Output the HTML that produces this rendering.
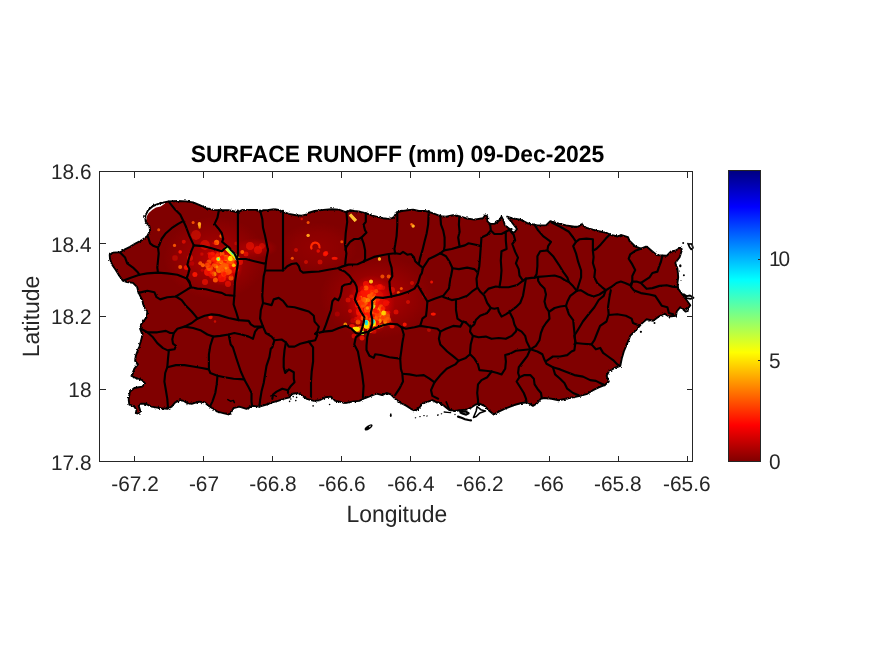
<!DOCTYPE html>
<html><head><meta charset="utf-8"><title>SURFACE RUNOFF (mm) 09-Dec-2025</title>
<style>html,body{margin:0;padding:0;background:#fff;}body{width:875px;height:656px;position:relative;overflow:hidden;font-family:"Liberation Sans",Arial,sans-serif;}</style>
</head><body>
<svg width="875" height="656" viewBox="0 0 875 656" style="position:absolute;left:0;top:0">
<defs>
<linearGradient id="jet" x1="0" y1="1" x2="0" y2="0">
<stop offset="0" stop-color="#800000"/><stop offset="0.125" stop-color="#ff0000"/><stop offset="0.375" stop-color="#ffff00"/><stop offset="0.625" stop-color="#00ffff"/><stop offset="0.875" stop-color="#0000ff"/><stop offset="1" stop-color="#000080"/>
</linearGradient>
<clipPath id="land"><polygon points="110,259 109.7,254.7 112.9,252.6 120,252.3 124.4,249.7 130,246.9 135.8,243.3 141.5,240.4 147.3,236.1 150.1,230.4 149.4,226.1 145.8,221.8 145.1,216.1 148,210.3 153,206 160.2,203.2 168.8,201.4 177.4,201 186,201.4 193.1,202.4 200.3,205.3 206,208.2 213.2,209.9 218.9,210.3 228.6,210.3 237.9,212.3 241.5,210.3 248.7,209.9 255.8,209.9 260.1,211.8 263,210.3 268.7,209.9 274.4,209.3 278.7,209.9 283,211.8 288.8,213.9 295.9,215.3 301.7,215.6 306,214.6 307.4,213.2 314.6,211 323.2,209.9 331.7,209.3 338.9,209.6 346.4,212.3 350,210.3 354.3,211 360.1,211.8 365.8,213.2 371.5,215.3 377.2,216.8 383,218.2 388.7,218.9 393.7,217.5 396.6,212.5 401.6,211 407.3,210.3 413.1,209.6 418.8,211 424.5,211 428.8,211.8 434.6,213.9 440.3,216.1 446,216.8 453.2,215.3 458.9,216.1 465.7,218.2 474.3,219.6 482.9,218.2 485.1,215.3 487.2,216.1 487.2,221.1 490.1,223.9 494.4,223.9 498.7,221.1 501.5,216.8 503.2,220 505,225.5 509,228.5 512.8,232.6 514.8,232 517,229 512,222.5 507.2,216.6 511.6,218.2 520.2,219.6 527.3,223.2 537.4,225.4 546,225.4 550.3,221.1 557.4,223.2 566,225.4 574.6,226.8 578.5,226.6 581.5,224.3 586.5,227.9 596.5,230.7 606.5,232.9 610.8,235 618,236.5 620.8,235 628,237.2 629.4,240.8 635.2,246.5 640.9,248.7 646.6,246.5 652.4,251.5 656.7,255.1 666.7,255.8 671,251.5 675.3,250.8 681,247.2 681.7,250.8 679.6,257.2 675.3,263 677.4,268.7 678.2,277.3 677.4,283 678.2,288.8 682.4,294.5 686.7,300.2 690.3,305.2 688.2,308.1 684.6,310 680.3,307.2 676.7,311.5 676,315.8 668.9,316.5 664.6,313.6 658.8,316.5 653.1,320.8 646.6,319.3 641.6,323.6 637.3,328.7 633,333 630.3,335.7 627.4,342.9 623.8,351.5 621.7,358.7 620.3,365.8 614.5,368 608.8,371.5 606.6,375.8 608.8,381.6 604.5,385.2 598.8,387.3 593,390.2 587.3,393.8 580.1,395.9 573,397.3 565.8,398.8 558.7,400.2 551.5,398.8 544.3,398 540.7,398.8 537.2,403.1 532.9,405.9 527.4,402.3 521.7,403 515.9,404.5 510.2,406.6 504.5,408.8 498.7,411.6 493.7,414.5 488.7,410.2 484.4,405.9 480.1,403.8 475.8,404.5 471.5,407.3 467.2,409.5 460.1,410.2 454.3,411 448.6,409.5 444.3,406 440,403 436.7,402.3 432.4,400.2 428.1,401.6 423.1,403 419.5,407.3 415.2,410.9 410.9,408.8 406.6,405.9 400.9,403 395.1,398.7 390.8,394.4 386.5,393 382.2,395.2 376.5,393.7 370.8,395.9 365.1,398 359.3,400.9 352.2,401.6 345.3,403.1 339.6,401.6 335.3,400.9 331,396.6 325.3,397.3 319.6,400.2 313.8,400.9 306.7,398.8 302.4,395.9 298.1,393 292.3,393.7 289.5,397.3 283.7,398.8 278,400.9 272.3,402.3 266.5,404.5 259.4,406.6 252.2,405.9 246.5,408.8 239.3,406.6 233.6,408.1 231.4,411.7 229.3,414.5 223.2,413.1 217.4,411.7 212.4,408.1 208.9,405.9 204.6,402.3 198.8,401.6 191.7,403.8 187.4,403.1 183.8,400.9 180.2,400.2 175.2,402.3 171.6,406.6 167.3,408.8 160.1,408.1 151.5,406.6 145.8,403.8 140.8,403.8 138.7,405.9 140.1,410.2 139.4,413.8 135.8,413.1 136.5,410.2 134.4,406.6 129.3,404.5 128.6,398.8 130.1,391.6 134.4,388 142.2,386.6 145.1,383.7 142.2,380.1 135.8,378 131.5,375.8 134.4,368.7 137.9,364.4 135.1,360.8 135.8,355.8 138.7,348 140.8,341.5 142.5,335 140.1,328.7 141.5,323.7 146.6,317.3 147.3,311.5 143.7,306.5 142.3,300.1 138.7,292.9 137.2,287.2 133,282.9 127,282 122.9,280.7 119.3,275.7 115.8,270 112.2,264.8"/></clipPath>
<radialGradient id="gRed"><stop offset="0" stop-color="#f00000" stop-opacity=".5"/><stop offset=".5" stop-color="#e00000" stop-opacity=".26"/><stop offset="1" stop-color="#d00000" stop-opacity="0"/></radialGradient>
<radialGradient id="gRed2"><stop offset="0" stop-color="#e00000" stop-opacity=".22"/><stop offset=".6" stop-color="#d80000" stop-opacity=".13"/><stop offset="1" stop-color="#d00000" stop-opacity="0"/></radialGradient>
<radialGradient id="gRed3"><stop offset="0" stop-color="#ff2000" stop-opacity=".85"/><stop offset=".55" stop-color="#ff1000" stop-opacity=".55"/><stop offset="1" stop-color="#f00000" stop-opacity="0"/></radialGradient>
<filter id="rough" x="-2%" y="-2%" width="104%" height="104%"><feTurbulence type="fractalNoise" baseFrequency="0.25" numOctaves="2" seed="3" result="n"/><feDisplacementMap in="SourceGraphic" in2="n" scale="1.6" xChannelSelector="R" yChannelSelector="G"/></filter>
<filter id="rough2" x="-2%" y="-2%" width="104%" height="104%"><feTurbulence type="fractalNoise" baseFrequency="0.45" numOctaves="2" seed="7" result="n"/><feDisplacementMap in="SourceGraphic" in2="n" scale="2.6" xChannelSelector="R" yChannelSelector="G"/></filter>
<filter id="blur2" x="-50%" y="-50%" width="200%" height="200%"><feGaussianBlur stdDeviation="0.45"/></filter>
<filter id="blur1" x="-50%" y="-50%" width="200%" height="200%"><feGaussianBlur stdDeviation="0.7"/></filter>
</defs>
<rect x="0" y="0" width="875" height="656" fill="#fff"/>
<polygon points="110,259 109.7,254.7 112.9,252.6 120,252.3 124.4,249.7 130,246.9 135.8,243.3 141.5,240.4 147.3,236.1 150.1,230.4 149.4,226.1 145.8,221.8 145.1,216.1 148,210.3 153,206 160.2,203.2 168.8,201.4 177.4,201 186,201.4 193.1,202.4 200.3,205.3 206,208.2 213.2,209.9 218.9,210.3 228.6,210.3 237.9,212.3 241.5,210.3 248.7,209.9 255.8,209.9 260.1,211.8 263,210.3 268.7,209.9 274.4,209.3 278.7,209.9 283,211.8 288.8,213.9 295.9,215.3 301.7,215.6 306,214.6 307.4,213.2 314.6,211 323.2,209.9 331.7,209.3 338.9,209.6 346.4,212.3 350,210.3 354.3,211 360.1,211.8 365.8,213.2 371.5,215.3 377.2,216.8 383,218.2 388.7,218.9 393.7,217.5 396.6,212.5 401.6,211 407.3,210.3 413.1,209.6 418.8,211 424.5,211 428.8,211.8 434.6,213.9 440.3,216.1 446,216.8 453.2,215.3 458.9,216.1 465.7,218.2 474.3,219.6 482.9,218.2 485.1,215.3 487.2,216.1 487.2,221.1 490.1,223.9 494.4,223.9 498.7,221.1 501.5,216.8 503.2,220 505,225.5 509,228.5 512.8,232.6 514.8,232 517,229 512,222.5 507.2,216.6 511.6,218.2 520.2,219.6 527.3,223.2 537.4,225.4 546,225.4 550.3,221.1 557.4,223.2 566,225.4 574.6,226.8 578.5,226.6 581.5,224.3 586.5,227.9 596.5,230.7 606.5,232.9 610.8,235 618,236.5 620.8,235 628,237.2 629.4,240.8 635.2,246.5 640.9,248.7 646.6,246.5 652.4,251.5 656.7,255.1 666.7,255.8 671,251.5 675.3,250.8 681,247.2 681.7,250.8 679.6,257.2 675.3,263 677.4,268.7 678.2,277.3 677.4,283 678.2,288.8 682.4,294.5 686.7,300.2 690.3,305.2 688.2,308.1 684.6,310 680.3,307.2 676.7,311.5 676,315.8 668.9,316.5 664.6,313.6 658.8,316.5 653.1,320.8 646.6,319.3 641.6,323.6 637.3,328.7 633,333 630.3,335.7 627.4,342.9 623.8,351.5 621.7,358.7 620.3,365.8 614.5,368 608.8,371.5 606.6,375.8 608.8,381.6 604.5,385.2 598.8,387.3 593,390.2 587.3,393.8 580.1,395.9 573,397.3 565.8,398.8 558.7,400.2 551.5,398.8 544.3,398 540.7,398.8 537.2,403.1 532.9,405.9 527.4,402.3 521.7,403 515.9,404.5 510.2,406.6 504.5,408.8 498.7,411.6 493.7,414.5 488.7,410.2 484.4,405.9 480.1,403.8 475.8,404.5 471.5,407.3 467.2,409.5 460.1,410.2 454.3,411 448.6,409.5 444.3,406 440,403 436.7,402.3 432.4,400.2 428.1,401.6 423.1,403 419.5,407.3 415.2,410.9 410.9,408.8 406.6,405.9 400.9,403 395.1,398.7 390.8,394.4 386.5,393 382.2,395.2 376.5,393.7 370.8,395.9 365.1,398 359.3,400.9 352.2,401.6 345.3,403.1 339.6,401.6 335.3,400.9 331,396.6 325.3,397.3 319.6,400.2 313.8,400.9 306.7,398.8 302.4,395.9 298.1,393 292.3,393.7 289.5,397.3 283.7,398.8 278,400.9 272.3,402.3 266.5,404.5 259.4,406.6 252.2,405.9 246.5,408.8 239.3,406.6 233.6,408.1 231.4,411.7 229.3,414.5 223.2,413.1 217.4,411.7 212.4,408.1 208.9,405.9 204.6,402.3 198.8,401.6 191.7,403.8 187.4,403.1 183.8,400.9 180.2,400.2 175.2,402.3 171.6,406.6 167.3,408.8 160.1,408.1 151.5,406.6 145.8,403.8 140.8,403.8 138.7,405.9 140.1,410.2 139.4,413.8 135.8,413.1 136.5,410.2 134.4,406.6 129.3,404.5 128.6,398.8 130.1,391.6 134.4,388 142.2,386.6 145.1,383.7 142.2,380.1 135.8,378 131.5,375.8 134.4,368.7 137.9,364.4 135.1,360.8 135.8,355.8 138.7,348 140.8,341.5 142.5,335 140.1,328.7 141.5,323.7 146.6,317.3 147.3,311.5 143.7,306.5 142.3,300.1 138.7,292.9 137.2,287.2 133,282.9 127,282 122.9,280.7 119.3,275.7 115.8,270 112.2,264.8" fill="#800000"/>
<g clip-path="url(#land)" filter="url(#blur1)">
<ellipse cx="215" cy="258" rx="52" ry="42" fill="url(#gRed)"/>
<ellipse cx="377" cy="297" rx="58" ry="42" fill="url(#gRed)"/>
<ellipse cx="318" cy="248" rx="40" ry="26" fill="url(#gRed2)"/>
<ellipse cx="256" cy="248" rx="22" ry="10" fill="url(#gRed)"/>
<ellipse cx="224" cy="266" rx="19" ry="20" fill="url(#gRed3)"/>
<ellipse cx="226" cy="262" rx="10" ry="11" fill="url(#gRed3)"/>
<ellipse cx="371" cy="305" rx="24" ry="30" fill="url(#gRed3)"/>
<ellipse cx="372" cy="308" rx="13" ry="20" fill="url(#gRed3)"/>
<ellipse cx="224.6" cy="268.7" rx="5" ry="5" fill="#ff5a00" fill-opacity="0.9"/>
<ellipse cx="218" cy="262" rx="4" ry="4" fill="#ff1500" fill-opacity="0.9"/>
<ellipse cx="230" cy="263" rx="3.5" ry="3.5" fill="#ff5a00" fill-opacity="0.9"/>
<ellipse cx="233.7" cy="265.3" rx="2" ry="2" fill="#ff9800" fill-opacity="1"/>
<ellipse cx="230.3" cy="258.4" rx="2.6" ry="2.6" fill="#ffe600" fill-opacity="1"/>
<ellipse cx="208" cy="272" rx="4" ry="4" fill="#ff1500" fill-opacity="0.8"/>
<ellipse cx="222" cy="278" rx="4" ry="4" fill="#ff1500" fill-opacity="0.8"/>
<ellipse cx="212" cy="256" rx="4" ry="4" fill="#ff1500" fill-opacity="0.7"/>
<ellipse cx="205" cy="245" rx="5" ry="5" fill="#ff1500" fill-opacity="0.45"/>
<ellipse cx="196" cy="235" rx="5" ry="5" fill="#ff1500" fill-opacity="0.4"/>
<ellipse cx="199.4" cy="224.1" rx="1.8" ry="1.8" fill="#ff9800" fill-opacity="1"/>
<ellipse cx="193.1" cy="222.4" rx="1.5" ry="1.5" fill="#ff5a00" fill-opacity="0.9"/>
<ellipse cx="216.6" cy="242.4" rx="2.6" ry="2.6" fill="#ff5a00" fill-opacity="1"/>
<ellipse cx="221.1" cy="236.1" rx="1.8" ry="1.8" fill="#ff5a00" fill-opacity="0.9"/>
<ellipse cx="242.3" cy="252.1" rx="2" ry="2" fill="#ff5a00" fill-opacity="1"/>
<ellipse cx="202.9" cy="265.3" rx="2" ry="2" fill="#ff5a00" fill-opacity="1"/>
<ellipse cx="194.9" cy="274.4" rx="2.5" ry="2.5" fill="#ff1500" fill-opacity="0.9"/>
<ellipse cx="215.4" cy="280.1" rx="2.5" ry="2.5" fill="#ff5a00" fill-opacity="0.9"/>
<ellipse cx="186.3" cy="267.6" rx="2.5" ry="2.5" fill="#ff1500" fill-opacity="0.8"/>
<ellipse cx="158.7" cy="229.7" rx="1.5" ry="1.5" fill="#ff5a00" fill-opacity="0.8"/>
<ellipse cx="174.5" cy="245.4" rx="1.6" ry="1.6" fill="#ff5a00" fill-opacity="0.9"/>
<ellipse cx="180.2" cy="251.9" rx="1.8" ry="1.8" fill="#ff1500" fill-opacity="0.9"/>
<ellipse cx="183.8" cy="241.8" rx="2" ry="2" fill="#ff1500" fill-opacity="0.6"/>
<ellipse cx="180.2" cy="266.9" rx="2" ry="2" fill="#ff5a00" fill-opacity="0.9"/>
<ellipse cx="200.3" cy="263.3" rx="2" ry="2" fill="#ff5a00" fill-opacity="0.9"/>
<ellipse cx="210" cy="268" rx="3" ry="3" fill="#ff5a00" fill-opacity="0.8"/>
<ellipse cx="226" cy="258" rx="3" ry="3" fill="#ff9800" fill-opacity="0.9"/>
<ellipse cx="222" cy="254" rx="2.5" ry="2.5" fill="#ff5a00" fill-opacity="0.9"/>
<ellipse cx="228" cy="272" rx="3" ry="3" fill="#ff5a00" fill-opacity="0.8"/>
<ellipse cx="219" cy="270" rx="3" ry="3" fill="#ff9800" fill-opacity="0.7"/>
<ellipse cx="236" cy="270" rx="2.5" ry="2.5" fill="#ff1500" fill-opacity="0.8"/>
<ellipse cx="240" cy="262" rx="3" ry="3" fill="#ff1500" fill-opacity="0.6"/>
<ellipse cx="228" cy="284" rx="3" ry="3" fill="#ff1500" fill-opacity="0.6"/>
<ellipse cx="205" cy="282" rx="3" ry="3" fill="#ff1500" fill-opacity="0.6"/>
<ellipse cx="190" cy="258" rx="3" ry="3" fill="#ff1500" fill-opacity="0.5"/>
<ellipse cx="175" cy="258" rx="3" ry="3" fill="#ff1500" fill-opacity="0.35"/>
<ellipse cx="250" cy="246" rx="4" ry="4" fill="#ff1500" fill-opacity="0.5"/>
<ellipse cx="258" cy="250" rx="4" ry="4" fill="#ff1500" fill-opacity="0.5"/>
<ellipse cx="246" cy="254" rx="2.5" ry="2.5" fill="#ff1500" fill-opacity="0.6"/>
<ellipse cx="262" cy="246" rx="3" ry="3" fill="#ff1500" fill-opacity="0.4"/>
<ellipse cx="199.6" cy="226.5" rx="1.3" ry="2.2" fill="#ff9800" fill-opacity="0.9"/>
<path d="M226.9 248.1 L231 252 L237.1 258.4" stroke="#ffe600" stroke-width="4.6" stroke-linecap="round" fill="none"/>
<path d="M227.2 248.4 L231 252 L236.6 257.6" stroke="#a8ff50" stroke-width="2.4" stroke-linecap="round" fill="none"/>
<ellipse cx="218.3" cy="259" rx="2.4" ry="2.4" fill="#ffe600" fill-opacity="1"/>
<ellipse cx="236.6" cy="258.6" rx="1.2" ry="1.2" fill="#0050ff" fill-opacity="1"/>
<ellipse cx="308.1" cy="222.5" rx="1.5" ry="1.5" fill="#ff5a00" fill-opacity="0.9"/>
<ellipse cx="308.1" cy="235.4" rx="1.6" ry="1.6" fill="#ff9800" fill-opacity="1"/>
<ellipse cx="326" cy="253.3" rx="2.2" ry="2.2" fill="#ff1500" fill-opacity="0.9"/>
<ellipse cx="292.3" cy="258.3" rx="1.5" ry="1.5" fill="#ff5a00" fill-opacity="0.9"/>
<ellipse cx="301.7" cy="219" rx="1.2" ry="1.2" fill="#ff1500" fill-opacity="0.7"/>
<ellipse cx="341.8" cy="241.8" rx="1.5" ry="1.5" fill="#ff5a00" fill-opacity="0.8"/>
<ellipse cx="296" cy="250" rx="2" ry="2" fill="#ff1500" fill-opacity="0.5"/>
<ellipse cx="306" cy="262" rx="2" ry="2" fill="#ff1500" fill-opacity="0.5"/>
<ellipse cx="320" cy="262" rx="2.5" ry="2.5" fill="#ff1500" fill-opacity="0.5"/>
<ellipse cx="334.6" cy="258.3" rx="3" ry="1.5" fill="#ff1500" fill-opacity="0.9"/>
<path d="M311.5 248.5 A4.2 4.2 0 1 1 319.5 247.5" stroke="#ff2a00" stroke-width="2.2" fill="none" stroke-linecap="round"/>
<rect x="348.6" y="216.1" width="8.6" height="3.2" fill="#ffc030" transform="rotate(48 352.9 217.7)"/>
<ellipse cx="413.1" cy="226.1" rx="1.5" ry="1.5" fill="#ff9800" fill-opacity="1"/>
<ellipse cx="411.5" cy="224.3" rx="1.2" ry="1.2" fill="#ff5a00" fill-opacity="0.7"/>
<ellipse cx="379.4" cy="259" rx="1.6" ry="1.6" fill="#ff9800" fill-opacity="1"/>
<ellipse cx="365" cy="295" rx="6" ry="6" fill="#ff1500" fill-opacity="0.85"/>
<ellipse cx="362" cy="303" rx="5" ry="5" fill="#ff5a00" fill-opacity="0.8"/>
<ellipse cx="370" cy="290" rx="5" ry="5" fill="#ff1500" fill-opacity="0.8"/>
<ellipse cx="378" cy="318" rx="5" ry="5" fill="#ff5a00" fill-opacity="0.85"/>
<ellipse cx="385" cy="316" rx="5" ry="5" fill="#ff5a00" fill-opacity="0.8"/>
<ellipse cx="360" cy="312" rx="4" ry="4" fill="#ff1500" fill-opacity="0.8"/>
<ellipse cx="368" cy="310" rx="4" ry="4" fill="#ff5a00" fill-opacity="0.8"/>
<ellipse cx="375" cy="300" rx="4" ry="4" fill="#ff1500" fill-opacity="0.7"/>
<ellipse cx="383.6" cy="313" rx="2.6" ry="2.6" fill="#ff9800" fill-opacity="1"/>
<ellipse cx="381" cy="309" rx="3" ry="3" fill="#ff9800" fill-opacity="0.95"/>
<ellipse cx="371" cy="281.6" rx="2" ry="2" fill="#ff9800" fill-opacity="1"/>
<ellipse cx="385.3" cy="322.1" rx="2" ry="2" fill="#ff9800" fill-opacity="1"/>
<ellipse cx="381.9" cy="325.6" rx="1.8" ry="1.8" fill="#ff9800" fill-opacity="1"/>
<ellipse cx="345.3" cy="324.4" rx="1.8" ry="1.8" fill="#ff9800" fill-opacity="0.9"/>
<ellipse cx="404.7" cy="324.4" rx="2" ry="2" fill="#ff1500" fill-opacity="0.9"/>
<ellipse cx="401.3" cy="288.4" rx="1.5" ry="1.5" fill="#ff5a00" fill-opacity="0.9"/>
<ellipse cx="398.4" cy="292.4" rx="1.5" ry="1.5" fill="#ff5a00" fill-opacity="0.9"/>
<ellipse cx="431.6" cy="282.1" rx="1.5" ry="1.5" fill="#ff1500" fill-opacity="0.8"/>
<ellipse cx="382.4" cy="276.4" rx="2" ry="2" fill="#ff5a00" fill-opacity="0.8"/>
<ellipse cx="388.7" cy="276.4" rx="2" ry="2" fill="#ff5a00" fill-opacity="0.8"/>
<ellipse cx="366" cy="284" rx="3" ry="3" fill="#ff1500" fill-opacity="0.7"/>
<ellipse cx="372" cy="296" rx="3" ry="3" fill="#ff5a00" fill-opacity="0.8"/>
<ellipse cx="364" cy="300" rx="3" ry="3" fill="#ff9800" fill-opacity="0.6"/>
<ellipse cx="358" cy="305" rx="3" ry="3" fill="#ff1500" fill-opacity="0.8"/>
<ellipse cx="376" cy="311" rx="3" ry="3" fill="#ff5a00" fill-opacity="0.9"/>
<ellipse cx="388" cy="320" rx="3" ry="3" fill="#ff5a00" fill-opacity="0.8"/>
<ellipse cx="392" cy="326" rx="2.5" ry="2.5" fill="#ff1500" fill-opacity="0.8"/>
<ellipse cx="378" cy="326" rx="3" ry="3" fill="#ff5a00" fill-opacity="0.9"/>
<ellipse cx="370" cy="330" rx="3" ry="3" fill="#ff5a00" fill-opacity="0.9"/>
<ellipse cx="360" cy="330" rx="4" ry="4" fill="#ff5a00" fill-opacity="0.9"/>
<ellipse cx="352" cy="327" rx="3" ry="3" fill="#ff1500" fill-opacity="0.8"/>
<ellipse cx="362" cy="338" rx="2.5" ry="2.5" fill="#ff1500" fill-opacity="0.8"/>
<ellipse cx="354" cy="336" rx="2.5" ry="2.5" fill="#ff1500" fill-opacity="0.6"/>
<ellipse cx="396" cy="312" rx="2.5" ry="2.5" fill="#ff1500" fill-opacity="0.6"/>
<ellipse cx="386" cy="303" rx="3" ry="3" fill="#ff1500" fill-opacity="0.6"/>
<ellipse cx="392" cy="290" rx="3" ry="3" fill="#ff1500" fill-opacity="0.5"/>
<ellipse cx="380" cy="287" rx="3" ry="3" fill="#ff1500" fill-opacity="0.6"/>
<ellipse cx="408" cy="302" rx="2" ry="2" fill="#ff1500" fill-opacity="0.5"/>
<ellipse cx="412" cy="283" rx="2" ry="2" fill="#ff1500" fill-opacity="0.5"/>
<ellipse cx="424" cy="296" rx="2" ry="2" fill="#ff1500" fill-opacity="0.4"/>
<ellipse cx="429" cy="330" rx="2" ry="2" fill="#ff1500" fill-opacity="0.4"/>
<ellipse cx="348" cy="300" rx="2.5" ry="2.5" fill="#ff1500" fill-opacity="0.5"/>
<ellipse cx="350" cy="311" rx="2" ry="2" fill="#ff1500" fill-opacity="0.6"/>
<ellipse cx="433.3" cy="314.1" rx="2.6" ry="1.6" fill="#ff1500" fill-opacity="0.95"/>
<ellipse cx="366.5" cy="324.3" rx="3.2" ry="4.2" fill="#ffe600" fill-opacity="1"/>
<ellipse cx="373.3" cy="323" rx="2.6" ry="3.6" fill="#ffe600" fill-opacity="1"/>
<ellipse cx="356.1" cy="329" rx="3.6" ry="2.3" fill="#ffe600" fill-opacity="1"/>
<ellipse cx="362.4" cy="333" rx="1.9" ry="1.9" fill="#e0ff20" fill-opacity="1"/>
<ellipse cx="373.3" cy="306.7" rx="1.6" ry="2.2" fill="#d8f030" fill-opacity="1"/>
<ellipse cx="366.4" cy="322.5" rx="1.5" ry="2.5" fill="#20e0e0" fill-opacity="1"/>
<ellipse cx="373.3" cy="321.4" rx="1.3" ry="2.2" fill="#20e0e0" fill-opacity="1"/>
<ellipse cx="210.5" cy="317" rx="2.2" ry="2.2" fill="#ff1500" fill-opacity="0.85"/>
<ellipse cx="215" cy="321.5" rx="1.2" ry="1.2" fill="#ff1500" fill-opacity="0.6"/>
<ellipse cx="360.3" cy="297.5" rx="1.8" ry="1.8" fill="#ff9800" fill-opacity="1"/>
<ellipse cx="381.3" cy="307.6" rx="2" ry="2" fill="#ff9800" fill-opacity="1"/>
<ellipse cx="325.1" cy="254.1" rx="2.4" ry="2.4" fill="#ff1500" fill-opacity="0.8"/>
<ellipse cx="318.2" cy="251" rx="1.8" ry="1.8" fill="#ff1500" fill-opacity="0.7"/>
<ellipse cx="214" cy="274" rx="2.5" ry="2.5" fill="#ff9800" fill-opacity="0.8"/>
<ellipse cx="221" cy="262" rx="2.2" ry="2.2" fill="#ff9800" fill-opacity="0.9"/>
<ellipse cx="227" cy="266" rx="2.2" ry="2.2" fill="#ff9800" fill-opacity="0.9"/>
<ellipse cx="233" cy="260" rx="2" ry="2" fill="#ff9800" fill-opacity="0.9"/>
<ellipse cx="216" cy="266" rx="2.5" ry="2.5" fill="#ff5a00" fill-opacity="0.9"/>
<ellipse cx="224" cy="274" rx="2.5" ry="2.5" fill="#ff5a00" fill-opacity="0.9"/>
<ellipse cx="231" cy="278" rx="2.5" ry="2.5" fill="#ff5a00" fill-opacity="0.8"/>
<ellipse cx="209" cy="262" rx="2.5" ry="2.5" fill="#ff5a00" fill-opacity="0.8"/>
<ellipse cx="368" cy="300" rx="2.2" ry="2.2" fill="#ff9800" fill-opacity="0.8"/>
<ellipse cx="374" cy="315" rx="2.5" ry="2.5" fill="#ff9800" fill-opacity="0.9"/>
<ellipse cx="379" cy="321" rx="2.5" ry="2.5" fill="#ff9800" fill-opacity="0.9"/>
<ellipse cx="363" cy="318" rx="2.5" ry="2.5" fill="#ff5a00" fill-opacity="0.9"/>
<ellipse cx="358" cy="322" rx="2.5" ry="2.5" fill="#ff5a00" fill-opacity="0.9"/>
<ellipse cx="366" cy="288" rx="2.5" ry="2.5" fill="#ff5a00" fill-opacity="0.9"/>
<ellipse cx="372" cy="292" rx="2.2" ry="2.2" fill="#ff9800" fill-opacity="0.7"/>
<ellipse cx="208.8" cy="268.4" rx="2.5" ry="2.5" fill="#ff5a00" fill-opacity="0.67"/>
<ellipse cx="202.2" cy="270.3" rx="1.5" ry="1.5" fill="#e80800" fill-opacity="0.52"/>
<ellipse cx="207.4" cy="266.9" rx="1.5" ry="1.5" fill="#ff5a00" fill-opacity="0.65"/>
<ellipse cx="219.6" cy="268.7" rx="2.4" ry="2.4" fill="#ff5a00" fill-opacity="0.85"/>
<ellipse cx="212.7" cy="259.9" rx="1.9" ry="1.9" fill="#ff3000" fill-opacity="0.73"/>
<ellipse cx="216.6" cy="261.5" rx="1.3" ry="1.3" fill="#ff5a00" fill-opacity="0.82"/>
<ellipse cx="227.0" cy="267.1" rx="1.6" ry="1.6" fill="#ff5a00" fill-opacity="0.81"/>
<ellipse cx="222.6" cy="257.1" rx="2.1" ry="2.1" fill="#ff1500" fill-opacity="0.75"/>
<ellipse cx="206.8" cy="263.5" rx="1.9" ry="1.9" fill="#e80800" fill-opacity="0.64"/>
<ellipse cx="233.6" cy="271.7" rx="1.8" ry="1.8" fill="#e80800" fill-opacity="0.63"/>
<ellipse cx="218.7" cy="257.4" rx="1.6" ry="1.6" fill="#ff5a00" fill-opacity="0.76"/>
<ellipse cx="233.6" cy="267.2" rx="1.4" ry="1.4" fill="#ff1500" fill-opacity="0.67"/>
<ellipse cx="226.6" cy="257.7" rx="2.5" ry="2.5" fill="#ff3000" fill-opacity="0.73"/>
<ellipse cx="227.9" cy="265.0" rx="2.5" ry="2.5" fill="#ff3a00" fill-opacity="0.8"/>
<ellipse cx="209.9" cy="275.0" rx="1.8" ry="1.8" fill="#e80800" fill-opacity="0.6"/>
<ellipse cx="209.1" cy="253.6" rx="1.7" ry="1.7" fill="#ff1500" fill-opacity="0.57"/>
<ellipse cx="220.3" cy="266.5" rx="1.8" ry="1.8" fill="#ff5a00" fill-opacity="0.91"/>
<ellipse cx="231.4" cy="275.6" rx="1.3" ry="1.3" fill="#f01000" fill-opacity="0.61"/>
<ellipse cx="222.8" cy="259.6" rx="2.0" ry="2.0" fill="#ff3a00" fill-opacity="0.81"/>
<ellipse cx="192.0" cy="263.5" rx="2.3" ry="2.3" fill="#f01000" fill-opacity="0.35"/>
<ellipse cx="217.9" cy="261.5" rx="1.8" ry="1.8" fill="#ff5a00" fill-opacity="0.84"/>
<ellipse cx="234.2" cy="263.1" rx="2.6" ry="2.6" fill="#ff1500" fill-opacity="0.66"/>
<ellipse cx="223.4" cy="273.7" rx="2.4" ry="2.4" fill="#ff3000" fill-opacity="0.73"/>
<ellipse cx="218.4" cy="263.8" rx="1.5" ry="1.5" fill="#ff3a00" fill-opacity="0.89"/>
<ellipse cx="220.1" cy="280.5" rx="1.7" ry="1.7" fill="#f01000" fill-opacity="0.57"/>
<ellipse cx="218.0" cy="267.3" rx="1.6" ry="1.6" fill="#ff5a00" fill-opacity="0.86"/>
<ellipse cx="230.5" cy="265.8" rx="2.1" ry="2.1" fill="#ff1500" fill-opacity="0.74"/>
<ellipse cx="232.1" cy="262.4" rx="2.0" ry="2.0" fill="#ff5a00" fill-opacity="0.7"/>
<ellipse cx="223.4" cy="269.8" rx="2.5" ry="2.5" fill="#ff5a00" fill-opacity="0.82"/>
<ellipse cx="220.1" cy="259.8" rx="2.1" ry="2.1" fill="#ff5a00" fill-opacity="0.82"/>
<ellipse cx="217.2" cy="256.8" rx="1.9" ry="1.9" fill="#ff1500" fill-opacity="0.73"/>
<ellipse cx="216.9" cy="267.0" rx="1.4" ry="1.4" fill="#ff9800" fill-opacity="0.85"/>
<ellipse cx="222.1" cy="279.0" rx="1.6" ry="1.6" fill="#e80800" fill-opacity="0.61"/>
<ellipse cx="208.9" cy="265.6" rx="2.5" ry="2.5" fill="#ff1500" fill-opacity="0.68"/>
<ellipse cx="229.0" cy="272.3" rx="2.1" ry="2.1" fill="#ff3000" fill-opacity="0.7"/>
<ellipse cx="214.9" cy="260.2" rx="2.5" ry="2.5" fill="#ff1500" fill-opacity="0.77"/>
<ellipse cx="221.0" cy="261.6" rx="1.8" ry="1.8" fill="#ff5a00" fill-opacity="0.87"/>
<ellipse cx="226.8" cy="267.1" rx="1.8" ry="1.8" fill="#ff5a00" fill-opacity="0.81"/>
<ellipse cx="225.6" cy="267.7" rx="1.9" ry="1.9" fill="#ff9800" fill-opacity="0.83"/>
<ellipse cx="212.5" cy="253.5" rx="2.1" ry="2.1" fill="#ff1500" fill-opacity="0.61"/>
<ellipse cx="201.8" cy="254.1" rx="1.9" ry="1.9" fill="#f01000" fill-opacity="0.45"/>
<ellipse cx="213.2" cy="243.0" rx="1.3" ry="1.3" fill="#e80800" fill-opacity="0.39"/>
<ellipse cx="224.3" cy="266.5" rx="1.7" ry="1.7" fill="#ff5a00" fill-opacity="0.87"/>
<ellipse cx="225.0" cy="265.0" rx="2.0" ry="2.0" fill="#ff5a00" fill-opacity="0.86"/>
<ellipse cx="234.2" cy="256.4" rx="2.2" ry="2.2" fill="#f01000" fill-opacity="0.59"/>
<ellipse cx="211.9" cy="276.0" rx="2.5" ry="2.5" fill="#f01000" fill-opacity="0.62"/>
<ellipse cx="223.3" cy="264.2" rx="1.9" ry="1.9" fill="#ff5a00" fill-opacity="0.9"/>
<ellipse cx="214.1" cy="258.8" rx="2.1" ry="2.1" fill="#ff3000" fill-opacity="0.73"/>
<ellipse cx="224.9" cy="266.7" rx="1.5" ry="1.5" fill="#ff9800" fill-opacity="0.85"/>
<ellipse cx="232.8" cy="255.0" rx="1.8" ry="1.8" fill="#e80800" fill-opacity="0.59"/>
<ellipse cx="217.2" cy="255.6" rx="1.9" ry="1.9" fill="#ff3000" fill-opacity="0.71"/>
<ellipse cx="235.4" cy="272.5" rx="1.3" ry="1.3" fill="#e80800" fill-opacity="0.58"/>
<ellipse cx="222.8" cy="266.0" rx="2.5" ry="2.5" fill="#ff5a00" fill-opacity="0.9"/>
<ellipse cx="207.2" cy="265.2" rx="2.5" ry="2.5" fill="#ff5a00" fill-opacity="0.65"/>
<ellipse cx="228.6" cy="259.8" rx="1.5" ry="1.5" fill="#ff3000" fill-opacity="0.74"/>
<ellipse cx="222.8" cy="270.2" rx="2.5" ry="2.5" fill="#ff3a00" fill-opacity="0.82"/>
<ellipse cx="213.6" cy="265.1" rx="1.8" ry="1.8" fill="#ff5a00" fill-opacity="0.79"/>
<ellipse cx="224.4" cy="274.1" rx="2.3" ry="2.3" fill="#ff1500" fill-opacity="0.72"/>
<ellipse cx="228.2" cy="258.9" rx="2.1" ry="2.1" fill="#ff5a00" fill-opacity="0.73"/>
<ellipse cx="222.3" cy="269.7" rx="1.8" ry="1.8" fill="#ff5a00" fill-opacity="0.83"/>
<ellipse cx="215.1" cy="243.6" rx="1.7" ry="1.7" fill="#ff1500" fill-opacity="0.41"/>
<ellipse cx="229.6" cy="271.6" rx="2.5" ry="2.5" fill="#ff5a00" fill-opacity="0.7"/>
<ellipse cx="212.0" cy="272.3" rx="2.2" ry="2.2" fill="#ff3000" fill-opacity="0.68"/>
<ellipse cx="236.1" cy="243.4" rx="1.9" ry="1.9" fill="#ff1500" fill-opacity="0.35"/>
<ellipse cx="224.8" cy="258.6" rx="2.1" ry="2.1" fill="#ff3000" fill-opacity="0.77"/>
<ellipse cx="217.7" cy="253.7" rx="1.7" ry="1.7" fill="#ff3000" fill-opacity="0.66"/>
<ellipse cx="226.4" cy="265.6" rx="1.9" ry="1.9" fill="#ff5a00" fill-opacity="0.83"/>
<ellipse cx="221.9" cy="258.0" rx="2.3" ry="2.3" fill="#ff1500" fill-opacity="0.78"/>
<ellipse cx="373.9" cy="303.4" rx="1.4" ry="1.4" fill="#ff9800" fill-opacity="0.84"/>
<ellipse cx="381.7" cy="298.9" rx="1.6" ry="1.6" fill="#f01000" fill-opacity="0.62"/>
<ellipse cx="369.5" cy="324.6" rx="2.3" ry="2.3" fill="#e80800" fill-opacity="0.6"/>
<ellipse cx="368.9" cy="296.0" rx="1.7" ry="1.7" fill="#ff9800" fill-opacity="0.81"/>
<ellipse cx="351.2" cy="296.2" rx="2.0" ry="2.0" fill="#ff1500" fill-opacity="0.42"/>
<ellipse cx="358.9" cy="318.3" rx="2.5" ry="2.5" fill="#ff1500" fill-opacity="0.56"/>
<ellipse cx="355.7" cy="318.6" rx="1.8" ry="1.8" fill="#f01000" fill-opacity="0.49"/>
<ellipse cx="359.3" cy="309.2" rx="2.5" ry="2.5" fill="#f01000" fill-opacity="0.64"/>
<ellipse cx="358.9" cy="298.2" rx="2.0" ry="2.0" fill="#f01000" fill-opacity="0.63"/>
<ellipse cx="358.7" cy="308.3" rx="1.6" ry="1.6" fill="#e80800" fill-opacity="0.63"/>
<ellipse cx="379.5" cy="286.7" rx="2.5" ry="2.5" fill="#ff1500" fill-opacity="0.56"/>
<ellipse cx="373.9" cy="331.2" rx="2.6" ry="2.6" fill="#f01000" fill-opacity="0.48"/>
<ellipse cx="356.2" cy="298.7" rx="1.7" ry="1.7" fill="#e80800" fill-opacity="0.56"/>
<ellipse cx="374.6" cy="294.5" rx="1.4" ry="1.4" fill="#ff5a00" fill-opacity="0.75"/>
<ellipse cx="365.4" cy="315.4" rx="1.7" ry="1.7" fill="#ff1500" fill-opacity="0.72"/>
<ellipse cx="373.2" cy="329.6" rx="1.9" ry="1.9" fill="#ff1500" fill-opacity="0.51"/>
<ellipse cx="373.4" cy="314.4" rx="2.3" ry="2.3" fill="#ff1500" fill-opacity="0.75"/>
<ellipse cx="337.3" cy="313.9" rx="2.5" ry="2.5" fill="#e80800" fill-opacity="0.35"/>
<ellipse cx="376.6" cy="287.2" rx="2.5" ry="2.5" fill="#f01000" fill-opacity="0.61"/>
<ellipse cx="359.2" cy="294.5" rx="2.3" ry="2.3" fill="#f01000" fill-opacity="0.61"/>
<ellipse cx="363.5" cy="302.2" rx="2.2" ry="2.2" fill="#ff3000" fill-opacity="0.77"/>
<ellipse cx="374.9" cy="317.4" rx="2.5" ry="2.5" fill="#ff5a00" fill-opacity="0.69"/>
<ellipse cx="367.0" cy="315.8" rx="2.4" ry="2.4" fill="#ff3000" fill-opacity="0.73"/>
<ellipse cx="374.0" cy="328.5" rx="2.6" ry="2.6" fill="#e80800" fill-opacity="0.52"/>
<ellipse cx="368.7" cy="319.1" rx="1.8" ry="1.8" fill="#ff1500" fill-opacity="0.69"/>
<ellipse cx="359.1" cy="303.6" rx="1.3" ry="1.3" fill="#ff1500" fill-opacity="0.65"/>
<ellipse cx="361.9" cy="302.7" rx="2.3" ry="2.3" fill="#ff3000" fill-opacity="0.73"/>
<ellipse cx="372.6" cy="308.0" rx="1.5" ry="1.5" fill="#ff3a00" fill-opacity="0.85"/>
<ellipse cx="352.8" cy="320.8" rx="2.5" ry="2.5" fill="#f01000" fill-opacity="0.4"/>
<ellipse cx="370.2" cy="319.1" rx="1.7" ry="1.7" fill="#ff5a00" fill-opacity="0.69"/>
<ellipse cx="366.2" cy="303.0" rx="1.8" ry="1.8" fill="#ff5a00" fill-opacity="0.84"/>
<ellipse cx="373.8" cy="300.9" rx="2.3" ry="2.3" fill="#ff5a00" fill-opacity="0.83"/>
<ellipse cx="374.5" cy="305.7" rx="1.3" ry="1.3" fill="#ff9800" fill-opacity="0.82"/>
<ellipse cx="366.7" cy="315.0" rx="2.1" ry="2.1" fill="#ff1500" fill-opacity="0.74"/>
<ellipse cx="359.4" cy="304.0" rx="2.4" ry="2.4" fill="#ff3000" fill-opacity="0.66"/>
<ellipse cx="370.0" cy="312.6" rx="2.0" ry="2.0" fill="#ff3a00" fill-opacity="0.8"/>
<ellipse cx="381.2" cy="306.7" rx="2.4" ry="2.4" fill="#e80800" fill-opacity="0.64"/>
<ellipse cx="372.9" cy="311.4" rx="2.1" ry="2.1" fill="#ff5a00" fill-opacity="0.8"/>
<ellipse cx="354.7" cy="299.3" rx="2.1" ry="2.1" fill="#ff1500" fill-opacity="0.52"/>
<ellipse cx="371.4" cy="325.2" rx="2.4" ry="2.4" fill="#ff1500" fill-opacity="0.59"/>
<ellipse cx="367.2" cy="314.4" rx="2.5" ry="2.5" fill="#ff1500" fill-opacity="0.76"/>
<ellipse cx="370.9" cy="295.6" rx="1.4" ry="1.4" fill="#ff5a00" fill-opacity="0.81"/>
<ellipse cx="372.3" cy="308.1" rx="1.8" ry="1.8" fill="#ff3a00" fill-opacity="0.86"/>
<ellipse cx="374.1" cy="292.2" rx="2.3" ry="2.3" fill="#ff1500" fill-opacity="0.72"/>
<ellipse cx="373.4" cy="321.4" rx="2.3" ry="2.3" fill="#ff1500" fill-opacity="0.64"/>
<ellipse cx="373.7" cy="322.8" rx="2.5" ry="2.5" fill="#f01000" fill-opacity="0.62"/>
<ellipse cx="377.1" cy="314.2" rx="2.3" ry="2.3" fill="#ff3000" fill-opacity="0.69"/>
<ellipse cx="385.1" cy="303.8" rx="2.3" ry="2.3" fill="#f01000" fill-opacity="0.53"/>
<ellipse cx="371.7" cy="306.2" rx="2.0" ry="2.0" fill="#ff3a00" fill-opacity="0.89"/>
<ellipse cx="373.1" cy="310.6" rx="1.6" ry="1.6" fill="#ff5a00" fill-opacity="0.81"/>
<ellipse cx="388.3" cy="302.2" rx="1.4" ry="1.4" fill="#ff1500" fill-opacity="0.45"/>
<ellipse cx="378.0" cy="318.7" rx="1.4" ry="1.4" fill="#ff1500" fill-opacity="0.62"/>
<ellipse cx="365.8" cy="316.9" rx="2.0" ry="2.0" fill="#ff5a00" fill-opacity="0.7"/>
<ellipse cx="371.9" cy="316.2" rx="2.1" ry="2.1" fill="#ff1500" fill-opacity="0.74"/>
<ellipse cx="372.8" cy="297.2" rx="1.9" ry="1.9" fill="#ff9800" fill-opacity="0.81"/>
<ellipse cx="365.6" cy="308.8" rx="1.5" ry="1.5" fill="#ff5a00" fill-opacity="0.81"/>
<ellipse cx="368.5" cy="308.9" rx="2.4" ry="2.4" fill="#ff3a00" fill-opacity="0.86"/>
<ellipse cx="365.3" cy="300.4" rx="2.1" ry="2.1" fill="#ff9800" fill-opacity="0.81"/>
<ellipse cx="372.1" cy="294.5" rx="2.5" ry="2.5" fill="#ff3000" fill-opacity="0.78"/>
<ellipse cx="369.8" cy="296.3" rx="2.5" ry="2.5" fill="#ff5a00" fill-opacity="0.82"/>
<ellipse cx="383.1" cy="287.8" rx="2.2" ry="2.2" fill="#f01000" fill-opacity="0.5"/>
<ellipse cx="370.8" cy="290.8" rx="2.2" ry="2.2" fill="#ff1500" fill-opacity="0.73"/>
<ellipse cx="372.0" cy="293.5" rx="1.4" ry="1.4" fill="#ff5a00" fill-opacity="0.76"/>
<ellipse cx="387.2" cy="302.3" rx="1.4" ry="1.4" fill="#f01000" fill-opacity="0.48"/>
<ellipse cx="381.1" cy="297.4" rx="1.7" ry="1.7" fill="#e80800" fill-opacity="0.62"/>
<ellipse cx="365.8" cy="308.6" rx="1.4" ry="1.4" fill="#ff3a00" fill-opacity="0.81"/>
<ellipse cx="362.2" cy="288.2" rx="2.3" ry="2.3" fill="#e80800" fill-opacity="0.61"/>
<ellipse cx="380.9" cy="306.6" rx="2.3" ry="2.3" fill="#ff5a00" fill-opacity="0.65"/>
<ellipse cx="361.1" cy="309.3" rx="2.3" ry="2.3" fill="#ff3000" fill-opacity="0.69"/>
<ellipse cx="367.4" cy="308.2" rx="1.6" ry="1.6" fill="#ff9800" fill-opacity="0.85"/>
<ellipse cx="360.9" cy="299.2" rx="2.6" ry="2.6" fill="#ff3000" fill-opacity="0.69"/>
<ellipse cx="372.1" cy="299.1" rx="1.9" ry="1.9" fill="#ff5a00" fill-opacity="0.85"/>
<ellipse cx="358.7" cy="298.1" rx="2.5" ry="2.5" fill="#f01000" fill-opacity="0.62"/>
<ellipse cx="374.3" cy="300.7" rx="1.9" ry="1.9" fill="#ff5a00" fill-opacity="0.82"/>
<ellipse cx="376.2" cy="291.2" rx="2.1" ry="2.1" fill="#ff5a00" fill-opacity="0.68"/>
<ellipse cx="377.9" cy="299.4" rx="2.0" ry="2.0" fill="#ff3000" fill-opacity="0.72"/>
<ellipse cx="366.2" cy="318.8" rx="1.9" ry="1.9" fill="#ff5a00" fill-opacity="0.68"/>
<ellipse cx="363.9" cy="300.1" rx="2.2" ry="2.2" fill="#ff5a00" fill-opacity="0.77"/>
<ellipse cx="383.6" cy="307.8" rx="2.1" ry="2.1" fill="#e80800" fill-opacity="0.57"/>
<ellipse cx="377.4" cy="322.1" rx="1.8" ry="1.8" fill="#f01000" fill-opacity="0.58"/>
<ellipse cx="381.0" cy="314.1" rx="2.6" ry="2.6" fill="#ff9800" fill-opacity="0.88"/>
<ellipse cx="390.7" cy="321.8" rx="1.9" ry="1.9" fill="#f01000" fill-opacity="0.47"/>
<ellipse cx="381.0" cy="326.1" rx="1.4" ry="1.4" fill="#ff1500" fill-opacity="0.58"/>
<ellipse cx="388.4" cy="312.3" rx="1.9" ry="1.9" fill="#ff1500" fill-opacity="0.6"/>
<ellipse cx="379.0" cy="314.2" rx="2.1" ry="2.1" fill="#ff3a00" fill-opacity="0.84"/>
<ellipse cx="388.3" cy="324.0" rx="1.8" ry="1.8" fill="#ff1500" fill-opacity="0.51"/>
<ellipse cx="384.8" cy="320.6" rx="2.2" ry="2.2" fill="#ff5a00" fill-opacity="0.71"/>
<ellipse cx="375.2" cy="310.9" rx="2.2" ry="2.2" fill="#f01000" fill-opacity="0.64"/>
<ellipse cx="382.1" cy="308.7" rx="2.6" ry="2.6" fill="#ff5a00" fill-opacity="0.68"/>
<ellipse cx="380.6" cy="311.6" rx="1.4" ry="1.4" fill="#ff5a00" fill-opacity="0.79"/>
<ellipse cx="382.5" cy="307.8" rx="1.8" ry="1.8" fill="#f01000" fill-opacity="0.64"/>
<ellipse cx="374.8" cy="309.9" rx="2.2" ry="2.2" fill="#ff1500" fill-opacity="0.6"/>
<ellipse cx="375.4" cy="308.5" rx="1.5" ry="1.5" fill="#ff1500" fill-opacity="0.58"/>
<ellipse cx="373.7" cy="315.9" rx="1.6" ry="1.6" fill="#e80800" fill-opacity="0.63"/>
<ellipse cx="382.7" cy="316.5" rx="1.7" ry="1.7" fill="#ff3a00" fill-opacity="0.87"/>
<ellipse cx="382.4" cy="316.3" rx="1.6" ry="1.6" fill="#ff9800" fill-opacity="0.89"/>
<ellipse cx="382.9" cy="317.1" rx="2.2" ry="2.2" fill="#ff5a00" fill-opacity="0.86"/>
<ellipse cx="377.7" cy="311.7" rx="1.9" ry="1.9" fill="#ff1500" fill-opacity="0.74"/>
<ellipse cx="377.9" cy="322.0" rx="1.5" ry="1.5" fill="#ff1500" fill-opacity="0.69"/>
<ellipse cx="382.8" cy="309.8" rx="2.4" ry="2.4" fill="#ff1500" fill-opacity="0.71"/>
<ellipse cx="373.2" cy="319.4" rx="1.8" ry="1.8" fill="#ff1500" fill-opacity="0.59"/>
<ellipse cx="376.1" cy="322.4" rx="2.6" ry="2.6" fill="#f01000" fill-opacity="0.63"/>
<ellipse cx="378.9" cy="325.8" rx="2.4" ry="2.4" fill="#ff1500" fill-opacity="0.58"/>
<ellipse cx="376.7" cy="318.5" rx="1.4" ry="1.4" fill="#ff5a00" fill-opacity="0.74"/>
<ellipse cx="382.8" cy="317.2" rx="2.0" ry="2.0" fill="#ff3a00" fill-opacity="0.86"/>
</g>
<g clip-path="url(#land)" filter="url(#blur2)">
<path d="M226.9 248.1 L231 252 L237.1 258.4" stroke="#ffe600" stroke-width="4.2" stroke-linecap="round" fill="none"/>
<path d="M227.2 248.4 L231 252 L236.4 257.4" stroke="#a0ff58" stroke-width="2.2" stroke-linecap="round" fill="none"/>
<ellipse cx="236.6" cy="258.6" rx="1.3" ry="1.3" fill="#0050ff"/>
<ellipse cx="232.5" cy="253.4" rx="0.9" ry="0.9" fill="#30e0c0"/>
<ellipse cx="218.3" cy="259" rx="2.1" ry="2.1" fill="#ffe600"/>
<ellipse cx="218.3" cy="259" rx="0.95" ry="0.95" fill="#50ffb0"/>
<ellipse cx="230.3" cy="258.8" rx="2.4" ry="2.2" fill="#ffe600"/>
<ellipse cx="233.7" cy="265.3" rx="1.8" ry="1.8" fill="#ffc000"/>
<ellipse cx="366.5" cy="324.5" rx="3.2" ry="4.2" fill="#ffe600"/>
<ellipse cx="373.3" cy="323" rx="2.6" ry="3.6" fill="#ffe600"/>
<ellipse cx="356.1" cy="329" rx="3.6" ry="2.3" fill="#ffe600"/>
<ellipse cx="362.4" cy="333" rx="1.9" ry="1.9" fill="#e0ff20"/>
<ellipse cx="366.4" cy="322.5" rx="1.7" ry="2.7" fill="#20e8e0"/>
<ellipse cx="373.3" cy="321.4" rx="1.5" ry="2.4" fill="#20e8e0"/>
<ellipse cx="366.1" cy="322.0" rx="0.55" ry="0.9" fill="#10a8f0"/>
<ellipse cx="383.6" cy="313" rx="2.1" ry="2.4" fill="#ffd000"/>
<ellipse cx="373.3" cy="306.7" rx="1.5" ry="2.1" fill="#d8f030"/>
<rect x="348.6" y="216.3" width="8.6" height="2.8" fill="#ffc030" transform="rotate(48 352.9 217.7)"/>
<ellipse cx="413.1" cy="226.1" rx="1.5" ry="1.5" fill="#ffb020"/>
<ellipse cx="411.6" cy="224.4" rx="1.1" ry="1.1" fill="#ff7010"/>
<ellipse cx="379.4" cy="259" rx="1.5" ry="1.7" fill="#ffb020"/>
<ellipse cx="371" cy="281.6" rx="1.8" ry="1.8" fill="#ffc020"/>
<ellipse cx="199.4" cy="224.3" rx="1.4" ry="2.4" fill="#ffa020"/>
<ellipse cx="308.1" cy="235.4" rx="1.4" ry="1.4" fill="#ffa020"/>
</g>
<polygon points="145.1,220.2 144.6,215.6 146.9,211 151,207.4 156,204.2 161.5,202.3 165.2,201.9 164.7,203.7 160.6,206.5 156,207.4 152.4,209.7 148.7,212.9 146.7,216.5 146.4,220.2" fill="#fff"/>
<g fill="none" stroke="#000" stroke-width="2.15" stroke-linejoin="round" stroke-linecap="round" filter="url(#rough)">
<polyline points="168.8,201.7 174.5,208.9 180.2,214.6 183.1,220.4 186,226.8 189.5,236.1 193.8,245.4"/>
<polyline points="193.8,245.4 203.2,246.1 211.7,248.3 221.8,251.2 226.4,247"/>
<polyline points="193.8,245.4 191,251.9 188.8,259 187.4,264.8 189.5,269.1 188.1,274.1 186.7,278.4 189.5,283 191,287.2"/>
<polyline points="183.1,221.1 178.1,223.9 171.6,228.2 165.9,233.2 161.6,239 159.5,244.7 158,247.6 158.7,253.3 158,260.5 157.3,267.6 158,272.6"/>
<polyline points="148,236.8 150.1,243.3 153.7,246.1 158,247.6"/>
<polyline points="120.1,252.6 125.1,257.6 127.2,263.3 133,267.6 138,272.6 139.4,274.8"/>
<polyline points="123.6,280.5 130.8,277.7 139.4,274.8 147.3,273.4 158,272.6 167.3,273.4 177.4,274.8 186.7,278.4"/>
<polyline points="218.9,210.3 217.5,217.5 214.6,223.9 218.2,228.2 221.8,233.2 223.2,239 222.1,241.8 226.4,245.4 229.3,247.6 230.7,249.7 234.3,253.3 237.2,259"/>
<polyline points="237.9,210.5 237.9,253.3 237.2,259 237.9,263.3 236.5,272 235,282 234.3,295.8 233.6,304.4 236.5,313 238.6,320.1"/>
<polyline points="260.1,210.5 262.3,218.9 263,227.5 265.1,236.1 266.6,243.3 268,250.4 266.6,257.6 265.8,263.3 265.1,270.5 263.7,276.2 263,284.3 262.3,295.8 263,303 260.8,310.1 260.1,318.7 263,326.6"/>
<polyline points="283,210.8 283,270.5 265.1,270.5"/>
<polyline points="283,270.5 287.3,266.2 291.6,264 296.6,263.3 298.8,266.2 300.2,270.5 303.1,272.6 311.7,271.9 319.1,271.5 328.3,269.7 337.4,268.3 341.1,266.9 348.4,264.6 357.5,264.2 364.8,261 374,256.9 383.1,255 388.7,254 395.2,253.3 400.2,254 403,251.9 407.3,254.7 410.9,254 413.8,256.9 415.2,261.2 418.1,264 421.7,266.9 423.1,267.6"/>
<polyline points="237.9,259 245.8,259 254.4,261.2 263,263.3 265.8,263.3"/>
<polyline points="346.4,211.5 347.2,221.8 345.7,233.2 345,244.7 346.4,253.3 345.6,260.1 345.2,264.8"/>
<polyline points="365.8,213.2 365.8,221.8 363.6,224.7 365.1,230.4 366.5,232.5 361.5,237.5 358.6,239 354.3,239 350,241.8 346.4,246.9 345.5,250"/>
<polyline points="361.5,237.5 363.6,243.3 365.1,250.4 365.1,259 363.6,261.9"/>
<polyline points="397.3,212.5 397.3,224.7 396.6,236.1 395.2,244.7 394.4,249 395.2,253.3"/>
<polyline points="428.8,211 428.1,224.7 426.7,233.2 424.5,241.8 422.4,250.4 420.2,257.6 418.8,264"/>
<polyline points="440.3,215.5 441,224.7 443.2,230.4 444.6,237.5 444.6,246.1 443.9,250.4 440.3,253.3"/>
<polyline points="443.9,250.4 451.7,249 458.9,246.9 464.9,245.4 468.6,243.3 475.8,244.7 480.8,246.1"/>
<polyline points="459.3,217 458.9,224.7 459.6,231.8 458.2,237.5 459.6,246.5"/>
<polyline points="440.3,253.3 434.6,256.2 428.8,259 426,263.3 423.1,267.6 421.7,273.4 420.2,275.7 418.1,282.9 414.5,288.6 408.8,291.5 400.2,294.4 391.6,296.5"/>
<polyline points="440.3,253.3 446,256.2 449.6,261.9 452.5,268.3 451,276.2 450.3,278.6 448.9,288.6 443.2,295.8 434.6,298.7 427.4,301.5"/>
<polyline points="452.5,268.3 458.9,269.1 467.2,267.6 474.3,269.1 477.2,271.9 477.9,273.4"/>
<polyline points="388.7,254 389.4,260.5 391.6,267.6 392.3,276.2 389.4,281.5 390.1,290.1 391.6,296.5"/>
<polyline points="339.3,269.2 344.7,271.5 349.3,275.6 352,279.3 354.8,282.9 356.6,286.6 357.1,291.1 355.7,295.7 354.8,299.4 356.6,303 359.4,308.5 360.8,311.5 364.4,317.3 363.6,323 361.5,330.2 360.1,333.8"/>
<polyline points="490.1,223.9 490.8,230.4 487.2,234.7 481.5,237.5 480.8,246.1 480.1,256.2 479.3,266.2 477.9,273.4 476.5,278.6 477.2,287.2 480.1,291.5 484.4,295.8 487.2,303 490.8,308"/>
<polyline points="490.8,230.4 494.4,234 501.5,234 505.8,231.8 509.4,229.7 511.6,229"/>
<polyline points="505.8,231.8 505.8,240.4 506.6,249 501.5,251.2 500.8,260.5 501.5,270.5 500.8,279.1 499.4,287.2"/>
<polyline points="509.4,229.7 513.7,234.7 515.2,240.4 512.3,244 515.2,251.9 518,257.6 515.9,263.3 518.7,269.1 519.5,275.7 523,280.7"/>
<polyline points="484.4,292.9 488.7,288.6 495.8,286.5 501.5,287.2 508.7,287.2 517.3,285 523,280.7 525.9,278.6 531.6,277.9 534.5,277.7 538.1,276.9"/>
<polyline points="534.5,224.7 538.1,230.4 543.1,236.1 551,241.8 548.1,246.1 547.4,250.4 540.2,251.2 537.4,256.2 537.4,266.2 536.6,274.1 534.5,277.7"/>
<polyline points="547.4,250.4 553.1,256.2 558.9,264.8 563.2,271.9 567.4,277.7 568.9,282 573.2,286.3 576.8,290.8"/>
<polyline points="551.7,222.5 560.3,226.8 568.9,231.8 573.2,237.5 576,241.8 573.2,246.1 576,253.3 578.2,261.9 581.1,270.5 581.1,277.2 578.9,284.3 576.8,290.8"/>
<polyline points="576,241.8 579.3,239.3 586.5,238.6 592.9,239.3 592.9,245.1 592.9,250.8"/>
<polyline points="610.1,234.3 605.8,238.6 600.8,244.4 596.5,248.7 592.9,250.8 593.6,257.2 592.9,263 595.1,270.1 594.3,277.3 597.2,283 602.2,287.3 605.8,290.2"/>
<polyline points="576.8,290.8 580.7,290.2 587.9,294.5 593.6,296.6 599.4,294.5 605.8,290.2 610.8,287.3 616.5,283 620.8,281.6 625.1,283 630.2,285.2 632.3,281.6"/>
<polyline points="640.9,248.7 635.2,250.8 630.2,254.4 628.7,258.7 632.3,264.4 635.2,270.1 632.3,275.9 632.3,281.6"/>
<polyline points="662.4,255.8 661,261.5 658.8,267.3 657.4,271.6 652.4,273 649.5,277.3 645.2,280.2 640.9,283 636.6,281.6 632.3,281.6"/>
<polyline points="640.9,283 646.6,288.8 652.4,288.1 659.5,285.9 666.7,285.2 672.4,286.6 677.4,287.3"/>
<polyline points="632.3,281.6 630.9,286.6 633.7,290.2 640.9,293.1 649.5,294.5 655.2,295.9 658.1,300.2 661.7,305.7 667.4,307.2 668.9,312.9 673.2,314.3"/>
<polyline points="605.8,290.2 603.7,295.9 598.7,300 594.4,307.2 588.6,314.3 582.9,321.5 578.6,328.7 574.3,335.8 575.7,343"/>
<polyline points="610.8,290.2 609.4,297.4 608,307.2 608.7,314.3 606.5,321.5 600.1,325.8 597.2,333 594.4,340.1 591.5,344.4"/>
<polyline points="608.7,315 617.3,314.3 625.9,315.8 631.6,318.6 633,322.9 638,325.1"/>
<polyline points="186,277.2 189.5,281.5 191,287.2 197.4,288.6 206,289.3 214.6,291.5 221.8,292.9 225.7,295 234.3,295.8"/>
<polyline points="138.7,292.9 147.3,290.8 154.4,292.2 156.6,297.2 160.2,299.4 167.3,297.2 175.9,296.5 181.7,292.9 187.4,289.3 191,287.2"/>
<polyline points="175.9,296.5 181.7,300.1 186,305.8 191.7,311.5 196,316.6 197.4,318.7"/>
<polyline points="197.4,318.7 204.6,315.8 211.7,314.4 218.9,315.1 228.6,318 238.6,320.1 248.7,320.9 250.8,324.4 254.4,326.6 263,326.6"/>
<polyline points="197.4,318.7 191.7,323 184.5,326.6 177.4,328.7 173.8,333"/>
<polyline points="184.5,326.6 193.1,328 200.3,330.2 207.4,334.5 213.2,336.6 220.3,335.9 228.6,334.5 234.3,333 241.5,334.5 248.7,336.6 253,338.8 255.1,331.6 258,328 263,326.6"/>
<polyline points="140.8,328.7 147.3,332.3 157.3,332.3 165.9,330.9 170.2,333 173.8,333 172.3,339.3 173,343.6 175.9,345.8 174.5,349.3 168.7,350.1"/>
<polyline points="147.3,332.3 153,337.3 157.3,343.1 163,348.1 168.8,350.9 168,358.7 167.3,367.2 165.2,373 164.4,381.6 165.9,390.2 167.3,398.8 168,408.1"/>
<polyline points="213.2,336.6 210.3,345.8 208.9,354.4 208.9,363 208.9,369.4 210.3,373 217.4,375.8 224.6,377.3 233.6,378.7 244.3,379.4"/>
<polyline points="167.3,367.2 175.9,365.1 184.5,365.1 193.1,366.5 201.7,368 208.9,369.4"/>
<polyline points="217.4,376.6 216.7,384.4 215.3,393 212.4,401.6 210.3,405.9"/>
<polyline points="263,303 271.6,305.1 273.7,299.4 278.7,297.9 283,300.8 287.3,306.5 294.5,307.2 301.7,309.4 308.8,311.5 313.8,315.8 314.6,321.6 318.9,326.6 317.4,331.6 315.3,333.8"/>
<polyline points="263,326.6 265.8,333 271.6,336.6 274.4,340.2 281.6,339.5 285.9,342.3 288.8,346.6 294.5,346.6 300.2,343.8 308.8,341.6 315.3,340.2 317.4,335.2 315.3,333.8"/>
<polyline points="315.3,333.8 323.2,331.6 326,324.4 328.9,315.8 331,310 331.5,306.7 332.4,301.2 334.7,298.4 338.3,300.3 340.2,296.6 341.5,291.1 342,286.6 344.7,284.7 350.2,283.8 352,281.1"/>
<polyline points="323.2,331.6 331.7,330.9 338.9,328 345.7,325.9 351.5,328.7 355.8,333 360.1,333.8 368.7,331.6 375.8,328 383,325.2 390.1,323.7 397.3,324.4 401.6,327.3 405.9,328.7 414.5,327.3 420.2,325.9 428.8,327.3 437.4,328.7 440.3,331.6 446,328.7 453.2,325.9 460.3,326.6 463.2,321.6 465.7,322.3"/>
<polyline points="228.6,334.5 230.7,344.5 232.9,347.2 236.5,358.7 240.8,371.5 244.3,379.4 248.6,387.3 251.5,393 251.5,401.6 252.2,405.9"/>
<polyline points="274.4,340.2 272.3,347.4 270.8,348.6 269.4,357.2 266.5,365.8 265.1,374.4 263.7,383 261.5,391.6 260.1,400.2 259.4,406.6"/>
<polyline points="285.9,342.3 284.5,350.1 283.7,358.7 283.7,367.2 285.2,373 288.8,369.4 293.8,372.3 293.8,378.7 294.5,382.3 290.9,385.9 288,390.2 288,393"/>
<polyline points="288,390.2 282.3,388.7 276.6,391.6 273,394.5 272.3,398.8"/>
<polyline points="308.8,341.6 313.1,347.4 313.1,351.5 313.1,361.5 311.7,371.5 311,381.6 311,390.2 311,397.3"/>
<polyline points="391.6,296.5 383,297.9 375.8,297.2 372.2,300.8 372.2,307.2 370.8,313 372.2,318.7 372.2,324.4 370.8,328.7 368.7,331.6"/>
<polyline points="418.1,286 423.1,294.4 427.4,301.5 426.7,310.1 426,315.8 422.4,318.7 420.2,325.9"/>
<polyline points="443.2,297 451.7,300.1 458.9,298.7 467.2,295.8 472.9,290.8 477.2,287.9"/>
<polyline points="456,300.1 456,310.1 457.5,318.7 461.8,321.6 465.7,322.3"/>
<polyline points="360.1,333.8 355.8,337.3 354.3,344.5 357.9,351.5 360,362.9 362.2,374.4 363.6,385.8 362.9,397.3"/>
<polyline points="368.7,331.6 367.2,337.3 366.5,345.9 366.5,350 369.4,355.8 373.7,357.9 375.1,354.3 380.8,355 389.4,357.2 400.2,358.6"/>
<polyline points="401.6,327.3 403.8,334.5 402.3,343.1 401.6,348.6 400.2,358.6 400.9,368.7 402.3,373.7 403,381.5 399.4,388.7 395.1,395.2"/>
<polyline points="402.3,373.7 409.5,374.4 416.6,375.8 423.8,375.1 429.5,378.7 434.5,382.3"/>
<polyline points="440.3,331.6 438.9,338.8 440.3,344.5 447.2,351.5 454.3,357.2 458.6,360.8"/>
<polyline points="470.1,354.3 465.8,357.9 458.6,360.8 455.3,364.4 446.7,368.7 441,374.4 434.5,382.3 431,390.1 432.4,395.9 438.1,398.7"/>
<polyline points="490.8,308 487.2,313 480.1,315.8 475.8,320.1 474.3,324.4 470.7,327.3 465.7,322.3"/>
<polyline points="470.7,327.3 470,331.6 472.9,335.9 478.6,337.3 485.8,336.6 491.5,338.8 498.7,338 505.8,338.8 511.6,335.9 515.9,331.6 516.6,328.7 514.4,324.4 513,318.7 510.1,313"/>
<polyline points="525.9,278.6 524.5,287.2 523,295.8 520.2,303 515.9,307.2 510.1,311.5 505.8,314.4 501.5,316.6 498.7,311.5 498,308 494.4,308.7 490.8,308"/>
<polyline points="516.6,328.7 521.6,331.6 525.2,335.9 526.6,341.6 528.8,345.9 530.3,349.3"/>
<polyline points="530.3,349.3 535.9,345.9 539.5,340.2 540.9,333 543.1,327.3 546,323 549.5,318.7 548.8,311.5 546,307.2 544.5,301.5 546,294.4 544.5,288.6 540.2,284.3 538.1,280.7 538.1,276.9 546,276.2 554.6,275.5 560.3,277.2 564.6,280 568.9,282"/>
<polyline points="549.5,311.5 554.6,308 560.3,306.5 566,305.8 567.4,301.5 570.3,295.8 576.8,290.8"/>
<polyline points="566,305.8 568.9,314.4 573.2,320.1 573.9,327.3 574.6,334.5 575.3,343.1 574.4,350.2 571.5,351.5 567.2,355.1 560.1,356.5 552.9,356.5 546.5,360.8"/>
<polyline points="472.9,335.9 470.7,344.5 470,353.1 470.1,354.3 474.4,358.6 478,364.4 479.4,370.1 485.8,370.8 491.6,371.5"/>
<polyline points="491.6,371.5 497.3,373 501.6,374.4 505.2,368.7 505.9,361.5 505.2,355 510.2,353.6 515.9,350.7 523.1,350 530.3,349.3"/>
<polyline points="491.6,371.5 487.3,377.2 481.5,380.1 478,384.4 477.2,393 478,400.2 478,403.8"/>
<polyline points="530.3,349.3 527.4,355.8 523.1,361.5 518.8,367.2 518.1,373 519.5,377.2 516.6,381.5 520.2,387.3 523.8,393 526,398.7 526.7,403"/>
<polyline points="519.5,377.2 524.5,375.1 530.3,375.1 533.8,378.7 534.6,384.4 537.4,388.7 541,393 541.7,397.3"/>
<polyline points="530.3,349.3 537.4,351.5 542.4,354.3 544.6,360.1 546.5,363.7 552.9,367.2 560.1,369.4 567.2,372.3 574.4,375.1 583,376.6 590.2,380.1 595.9,380.9 601.6,383.7 604.5,385.2"/>
<polyline points="552.9,367.2 555.1,374.4 560.1,378.7 564.4,383 567.2,388.7 573,393 578.7,395.2"/>
<polyline points="574.4,344.3 575.7,343 582.9,343.7 591.5,344.4 595.9,349.3 600.2,347.9 603.1,352.9 608.1,356.5 613.1,360.1 617.4,364.4 619.5,365.8"/>
</g>
<polygon points="110,259 109.7,254.7 112.9,252.6 120,252.3 124.4,249.7 130,246.9 135.8,243.3 141.5,240.4 147.3,236.1 150.1,230.4 149.4,226.1 145.8,221.8 145.1,216.1 148,210.3 153,206 160.2,203.2 168.8,201.4 177.4,201 186,201.4 193.1,202.4 200.3,205.3 206,208.2 213.2,209.9 218.9,210.3 228.6,210.3 237.9,212.3 241.5,210.3 248.7,209.9 255.8,209.9 260.1,211.8 263,210.3 268.7,209.9 274.4,209.3 278.7,209.9 283,211.8 288.8,213.9 295.9,215.3 301.7,215.6 306,214.6 307.4,213.2 314.6,211 323.2,209.9 331.7,209.3 338.9,209.6 346.4,212.3 350,210.3 354.3,211 360.1,211.8 365.8,213.2 371.5,215.3 377.2,216.8 383,218.2 388.7,218.9 393.7,217.5 396.6,212.5 401.6,211 407.3,210.3 413.1,209.6 418.8,211 424.5,211 428.8,211.8 434.6,213.9 440.3,216.1 446,216.8 453.2,215.3 458.9,216.1 465.7,218.2 474.3,219.6 482.9,218.2 485.1,215.3 487.2,216.1 487.2,221.1 490.1,223.9 494.4,223.9 498.7,221.1 501.5,216.8 503.2,220 505,225.5 509,228.5 512.8,232.6 514.8,232 517,229 512,222.5 507.2,216.6 511.6,218.2 520.2,219.6 527.3,223.2 537.4,225.4 546,225.4 550.3,221.1 557.4,223.2 566,225.4 574.6,226.8 578.5,226.6 581.5,224.3 586.5,227.9 596.5,230.7 606.5,232.9 610.8,235 618,236.5 620.8,235 628,237.2 629.4,240.8 635.2,246.5 640.9,248.7 646.6,246.5 652.4,251.5 656.7,255.1 666.7,255.8 671,251.5 675.3,250.8 681,247.2 681.7,250.8 679.6,257.2 675.3,263 677.4,268.7 678.2,277.3 677.4,283 678.2,288.8 682.4,294.5 686.7,300.2 690.3,305.2 688.2,308.1 684.6,310 680.3,307.2 676.7,311.5 676,315.8 668.9,316.5 664.6,313.6 658.8,316.5 653.1,320.8 646.6,319.3 641.6,323.6 637.3,328.7 633,333 630.3,335.7 627.4,342.9 623.8,351.5 621.7,358.7 620.3,365.8 614.5,368 608.8,371.5 606.6,375.8 608.8,381.6 604.5,385.2 598.8,387.3 593,390.2 587.3,393.8 580.1,395.9 573,397.3 565.8,398.8 558.7,400.2 551.5,398.8 544.3,398 540.7,398.8 537.2,403.1 532.9,405.9 527.4,402.3 521.7,403 515.9,404.5 510.2,406.6 504.5,408.8 498.7,411.6 493.7,414.5 488.7,410.2 484.4,405.9 480.1,403.8 475.8,404.5 471.5,407.3 467.2,409.5 460.1,410.2 454.3,411 448.6,409.5 444.3,406 440,403 436.7,402.3 432.4,400.2 428.1,401.6 423.1,403 419.5,407.3 415.2,410.9 410.9,408.8 406.6,405.9 400.9,403 395.1,398.7 390.8,394.4 386.5,393 382.2,395.2 376.5,393.7 370.8,395.9 365.1,398 359.3,400.9 352.2,401.6 345.3,403.1 339.6,401.6 335.3,400.9 331,396.6 325.3,397.3 319.6,400.2 313.8,400.9 306.7,398.8 302.4,395.9 298.1,393 292.3,393.7 289.5,397.3 283.7,398.8 278,400.9 272.3,402.3 266.5,404.5 259.4,406.6 252.2,405.9 246.5,408.8 239.3,406.6 233.6,408.1 231.4,411.7 229.3,414.5 223.2,413.1 217.4,411.7 212.4,408.1 208.9,405.9 204.6,402.3 198.8,401.6 191.7,403.8 187.4,403.1 183.8,400.9 180.2,400.2 175.2,402.3 171.6,406.6 167.3,408.8 160.1,408.1 151.5,406.6 145.8,403.8 140.8,403.8 138.7,405.9 140.1,410.2 139.4,413.8 135.8,413.1 136.5,410.2 134.4,406.6 129.3,404.5 128.6,398.8 130.1,391.6 134.4,388 142.2,386.6 145.1,383.7 142.2,380.1 135.8,378 131.5,375.8 134.4,368.7 137.9,364.4 135.1,360.8 135.8,355.8 138.7,348 140.8,341.5 142.5,335 140.1,328.7 141.5,323.7 146.6,317.3 147.3,311.5 143.7,306.5 142.3,300.1 138.7,292.9 137.2,287.2 133,282.9 127,282 122.9,280.7 119.3,275.7 115.8,270 112.2,264.8" fill="none" stroke="#000" stroke-width="1.9" stroke-linejoin="round" filter="url(#rough2)"/>
<ellipse cx="683.2" cy="242.9" rx="1.0" ry="1.0" fill="#000"/>
<polyline points="688,243.6 691.8,244 693,247.8 691.3,249.4 689.6,247.2 688,243.6" fill="#fff" stroke="#000" stroke-width="1.7" stroke-linejoin="round" stroke-linecap="round"/>
<ellipse cx="680.3" cy="265.8" rx="1.2" ry="1.5" fill="#000"/>
<ellipse cx="683.9" cy="275.2" rx="1.0" ry="1.0" fill="#000"/>
<ellipse cx="679.5" cy="271" rx="0.6" ry="0.6" fill="#000"/>
<ellipse cx="681" cy="280.5" rx="0.5" ry="0.5" fill="#000"/>
<polyline points="684.2,294.5 687,296.2 690,295.5 693.5,297.8 690.5,298.8 686.5,298.2 684.2,294.5" fill="#fff" stroke="#000" stroke-width="1.8" stroke-linejoin="round" stroke-linecap="round"/>
<polyline points="683.2,309.3 685.5,311.6 688,310.8" fill="none" stroke="#000" stroke-width="1.8" stroke-linejoin="round" stroke-linecap="round"/>
<ellipse cx="686.5" cy="308.2" rx="0.6" ry="0.6" fill="#000"/>
<ellipse cx="640.9" cy="331.8" rx="1.1" ry="1.1" fill="#000"/>
<ellipse cx="654.5" cy="322.9" rx="1.0" ry="1.0" fill="#000"/>
<ellipse cx="649" cy="321.5" rx="0.6" ry="0.6" fill="#000"/>
<ellipse cx="368.6" cy="427.4" rx="4.6" ry="1.9" fill="#000" transform="rotate(-35 368.6 427.4)"/>
<ellipse cx="370" cy="426.3" rx="1.3" ry=".4" fill="#fff" transform="rotate(-35 370 426.3)"/>
<ellipse cx="390.8" cy="415.2" rx="0.9" ry="1.9" fill="#000"/>
<ellipse cx="415.5" cy="417.8" rx="0.8" ry="0.6" fill="#000" transform="rotate(-20 415.5 417.8)"/>
<ellipse cx="420" cy="416.6" rx="0.8" ry="0.6" fill="#000" transform="rotate(-20 420 416.6)"/>
<ellipse cx="424" cy="415.6" rx="0.8" ry="0.6" fill="#000" transform="rotate(-20 424 415.6)"/>
<ellipse cx="427" cy="416" rx="0.8" ry="0.6" fill="#000" transform="rotate(-20 427 416)"/>
<ellipse cx="438" cy="415" rx="0.8" ry="0.6" fill="#000" transform="rotate(-20 438 415)"/>
<ellipse cx="441.5" cy="413.8" rx="0.8" ry="0.6" fill="#000" transform="rotate(-20 441.5 413.8)"/>
<polyline points="446.2,402 447.5,405 448.6,408 449.6,410" fill="none" stroke="#000" stroke-width="1.8" stroke-linejoin="round" stroke-linecap="round"/>
<polyline points="444.2,412 447.5,412.3 450.6,412.6" fill="none" stroke="#000" stroke-width="1.3" stroke-linejoin="round" stroke-linecap="round"/>
<ellipse cx="437.8" cy="415.1" rx="0.8" ry="0.6" fill="#000" transform="rotate(-30 437.8 415.1)"/>
<polyline points="459,410.6 462,412 465.5,411.4 468.6,413.2 466.2,414.6 463,413.8 460.4,412.6" fill="none" stroke="#000" stroke-width="2.2" stroke-linejoin="round" stroke-linecap="round"/>
<polyline points="458,416.6 461.5,417.8 465,419.2 468.5,420 471,420.4" fill="none" stroke="#000" stroke-width="2.2" stroke-linejoin="round" stroke-linecap="round"/>
<polyline points="473.5,417.4 476.2,411 477.1,406.5 480.8,409.7 485.4,411 479.9,412.9 476.2,416.5 473.5,417.4" fill="#fff" stroke="#000" stroke-width="1.6" stroke-linejoin="round" stroke-linecap="round"/>
<ellipse cx="455" cy="414.5" rx="0.7" ry="0.7" fill="#000"/>
<polyline points="227.8,399.6 230.5,401.2 233.4,400.4 234.4,402.6" fill="none" stroke="#000" stroke-width="1.5" stroke-linejoin="round" stroke-linecap="round"/>
<ellipse cx="248.5" cy="408.5" rx="1.1" ry="0.8" fill="#000"/>
<ellipse cx="229.8" cy="413.8" rx="1.1" ry="1.1" fill="#000"/>
<ellipse cx="288.6" cy="395" rx="0.8" ry="0.8" fill="#000"/>
<ellipse cx="290.8" cy="399" rx="0.8" ry="0.8" fill="#000"/>
<ellipse cx="293.2" cy="396.6" rx="0.8" ry="0.8" fill="#000"/>
<ellipse cx="295.8" cy="400.6" rx="0.8" ry="0.8" fill="#000"/>
<ellipse cx="289.6" cy="401.4" rx="0.8" ry="0.8" fill="#000"/>
<ellipse cx="296.6" cy="397.4" rx="0.8" ry="0.8" fill="#000"/>
<polyline points="270.6,396 273.4,395 276.4,396.4" fill="none" stroke="#000" stroke-width="1.3" stroke-linejoin="round" stroke-linecap="round"/>
<ellipse cx="313.1" cy="405.9" rx="0.8" ry="0.8" fill="#000"/>
<ellipse cx="329.6" cy="404.5" rx="0.8" ry="0.8" fill="#000"/>
<ellipse cx="201.5" cy="403.6" rx="0.7" ry="0.7" fill="#000"/>
<ellipse cx="213" cy="410.2" rx="0.7" ry="0.7" fill="#000"/>
<ellipse cx="187" cy="404.6" rx="0.6" ry="0.6" fill="#000"/>
<ellipse cx="226.2" cy="413.2" rx="0.8" ry="0.6" fill="#000"/>
<ellipse cx="219" cy="412.8" rx="0.6" ry="0.6" fill="#000"/>
<g stroke="#262626" stroke-width="1" fill="none" shape-rendering="crispEdges">
<rect x="99.5" y="171.5" width="593.0" height="290.0"/>
<line x1="134.5" y1="461.5" x2="134.5" y2="455.5"/><line x1="134.5" y1="171.5" x2="134.5" y2="177.5"/>
<line x1="203.5" y1="461.5" x2="203.5" y2="455.5"/><line x1="203.5" y1="171.5" x2="203.5" y2="177.5"/>
<line x1="272.5" y1="461.5" x2="272.5" y2="455.5"/><line x1="272.5" y1="171.5" x2="272.5" y2="177.5"/>
<line x1="341.5" y1="461.5" x2="341.5" y2="455.5"/><line x1="341.5" y1="171.5" x2="341.5" y2="177.5"/>
<line x1="410.5" y1="461.5" x2="410.5" y2="455.5"/><line x1="410.5" y1="171.5" x2="410.5" y2="177.5"/>
<line x1="479.5" y1="461.5" x2="479.5" y2="455.5"/><line x1="479.5" y1="171.5" x2="479.5" y2="177.5"/>
<line x1="549.5" y1="461.5" x2="549.5" y2="455.5"/><line x1="549.5" y1="171.5" x2="549.5" y2="177.5"/>
<line x1="618.5" y1="461.5" x2="618.5" y2="455.5"/><line x1="618.5" y1="171.5" x2="618.5" y2="177.5"/>
<line x1="687.5" y1="461.5" x2="687.5" y2="455.5"/><line x1="687.5" y1="171.5" x2="687.5" y2="177.5"/>
<line x1="99.5" y1="171.5" x2="105.5" y2="171.5"/><line x1="692.5" y1="171.5" x2="686.5" y2="171.5"/>
<line x1="99.5" y1="243.5" x2="105.5" y2="243.5"/><line x1="692.5" y1="243.5" x2="686.5" y2="243.5"/>
<line x1="99.5" y1="316.5" x2="105.5" y2="316.5"/><line x1="692.5" y1="316.5" x2="686.5" y2="316.5"/>
<line x1="99.5" y1="389.5" x2="105.5" y2="389.5"/><line x1="692.5" y1="389.5" x2="686.5" y2="389.5"/>
<line x1="99.5" y1="461.5" x2="105.5" y2="461.5"/><line x1="692.5" y1="461.5" x2="686.5" y2="461.5"/>
</g>
<rect x="728.5" y="170.5" width="32" height="291" fill="url(#jet)" stroke="#262626" stroke-width="1" shape-rendering="crispEdges"/>
<line x1="758" y1="360.5" x2="760.5" y2="360.5" stroke="#262626" stroke-width="1" shape-rendering="crispEdges"/>
<line x1="758" y1="259.5" x2="760.5" y2="259.5" stroke="#262626" stroke-width="1" shape-rendering="crispEdges"/>
<g font-family="Liberation Sans, Arial, sans-serif" text-rendering="geometricPrecision" fill="#262626" font-size="20.83">
<text transform="translate(135 490.9) scale(1 1.02)" text-anchor="middle">-67.2</text>
<text transform="translate(203.97 490.9) scale(1 1.02)" text-anchor="middle">-67</text>
<text transform="translate(272.94 490.9) scale(1 1.02)" text-anchor="middle">-66.8</text>
<text transform="translate(341.91 490.9) scale(1 1.02)" text-anchor="middle">-66.6</text>
<text transform="translate(410.88 490.9) scale(1 1.02)" text-anchor="middle">-66.4</text>
<text transform="translate(479.85 490.9) scale(1 1.02)" text-anchor="middle">-66.2</text>
<text transform="translate(548.82 490.9) scale(1 1.02)" text-anchor="middle">-66</text>
<text transform="translate(617.79 490.9) scale(1 1.02)" text-anchor="middle">-65.8</text>
<text transform="translate(686.76 490.9) scale(1 1.02)" text-anchor="middle">-65.6</text>
<text transform="translate(91.5 179) scale(1 1.02)" text-anchor="end">18.6</text>
<text transform="translate(91.5 252) scale(1 1.02)" text-anchor="end">18.4</text>
<text transform="translate(91.5 324) scale(1 1.02)" text-anchor="end">18.2</text>
<text transform="translate(91.5 397) scale(1 1.02)" text-anchor="end">18</text>
<text transform="translate(91.5 470) scale(1 1.02)" text-anchor="end">17.8</text>
<text transform="translate(769 468.8) scale(1 1.02)">0</text>
<text transform="translate(769 368.3) scale(1 1.02)">5</text>
<text transform="translate(769 266.1) scale(1 1.02)">1<tspan dx="-2">0</tspan></text>
</g>
<text font-family="Liberation Sans, Arial, sans-serif" text-rendering="geometricPrecision" transform="translate(396.8 521.6) scale(1 1.03)" font-size="22.92" text-anchor="middle" fill="#262626">Longitude</text>
<text font-family="Liberation Sans, Arial, sans-serif" text-rendering="geometricPrecision" transform="translate(38.5 316.5) rotate(-90) scale(1 1.03)" font-size="22.92" text-anchor="middle" fill="#262626">Latitude</text>
<text font-family="Liberation Sans, Arial, sans-serif" text-rendering="geometricPrecision" transform="translate(397.5 161.8) scale(1 1.025)" font-size="22.92" font-weight="bold" text-anchor="middle" fill="#000">SURFACE RUNOFF (mm) 09-Dec-2025</text>
</svg>
</body></html>
